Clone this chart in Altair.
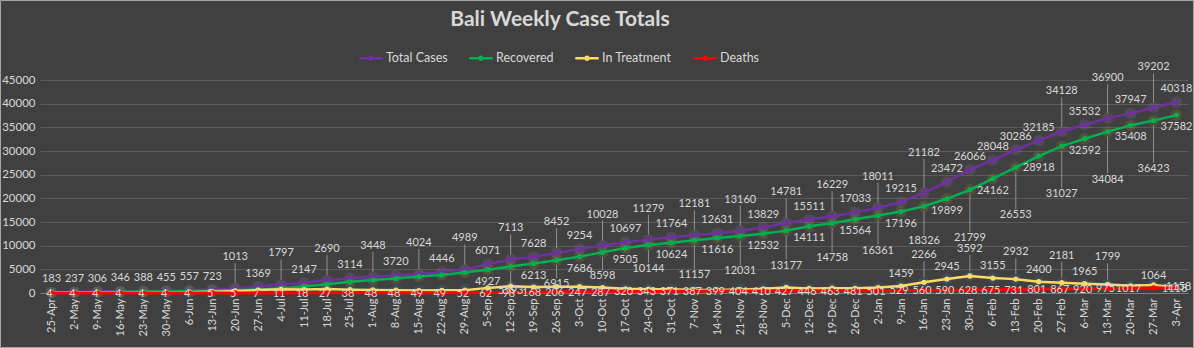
import altair as alt
import pandas as pd

dates = ["25-Apr", "2-May", "9-May", "16-May", "23-May", "30-May", "6-Jun", "13-Jun", "20-Jun", "27-Jun",
         "4-Jul", "11-Jul", "18-Jul", "25-Jul", "1-Aug", "8-Aug", "15-Aug", "22-Aug", "29-Aug", "5-Sep",
         "12-Sep", "19-Sep", "26-Sep", "3-Oct", "10-Oct", "17-Oct", "24-Oct", "31-Oct", "7-Nov", "14-Nov",
         "21-Nov", "28-Nov", "5-Dec", "12-Dec", "19-Dec", "26-Dec", "2-Jan", "9-Jan", "16-Jan", "23-Jan",
         "30-Jan", "6-Feb", "13-Feb", "20-Feb", "27-Feb", "6-Mar", "13-Mar", "20-Mar", "27-Mar", "3-Apr"]

total_cases = [183, 237, 306, 346, 388, 455, 557, 723, 1013, 1369,
               1797, 2147, 2690, 3114, 3448, 3720, 4024, 4446, 4989, 6071,
               7113, 7628, 8452, 9254, 10028, 10697, 11279, 11764, 12181, 12631,
               13160, 13829, 14781, 15511, 16229, 17033, 18011, 19215, 21182, 23472,
               26066, 28048, 30286, 32185, 34128, 35532, 36900, 37947, 39202, 40318]

recovered = [70, 106, 164, 250, 296, 338, 384, 463, 560, 741,
             1015, 1398, 1827, 2364, 2742, 3076, 3468, 3827, 4350, 4927,
             5593, 6213, 6915, 7686, 8598, 9505, 10144, 10624, 11157, 11616,
             12031, 12532, 13177, 14111, 14758, 15564, 16361, 17196, 18326, 19899,
             21799, 24162, 26553, 28918, 31027, 32592, 34084, 35408, 36423, 37582]

in_treatment = [109, 127, 138, 92, 88, 113, 169, 255, 448, 621,
                771, 731, 836, 712, 658, 596, 507, 570, 587, 1082,
                1422, 1247, 1331, 1321, 1143, 872, 792, 769, 637, 616,
                725, 887, 1177, 954, 1008, 988, 1149, 1459, 2266, 2945,
                3592, 3155, 2932, 2400, 2181, 1965, 1799, 1522, 1715, 1158]

deaths = [4, 4, 4, 4, 4, 4, 4, 5, 5, 7,
          11, 18, 27, 38, 48, 48, 49, 49, 52, 62,
          98, 168, 206, 247, 287, 320, 343, 371, 387, 399,
          404, 410, 427, 446, 463, 481, 501, 529, 560, 590,
          628, 675, 731, 801, 867, 920, 975, 1017, 1064, 1118]

title_text = "Bali Weekly Case Totals"
series_names = ["Total Cases", "Recovered", "In Treatment", "Deaths"]
series_colors = ["#7030A0", "#00B050", "#FFD966", "#FF0000"]
glow_colors = ["#7A6A8E", "#8F7A30", "#2F6F8E", None]

rows = []
for s, vals in zip(series_names, [total_cases, recovered, in_treatment, deaths]):
    for i, d in enumerate(dates):
        rows.append({"date": d, "i": i, "series": s, "value": vals[i]})
df = pd.DataFrame(rows)

FONT = "Lato"
TXT = "#D9D9D9"

x_enc = alt.X("date:N", sort=dates,
              scale=alt.Scale(type="point", padding=0.5),
              axis=alt.Axis(title=None, labelAngle=270, labelFontSize=11, labelColor=TXT,
                            labelFont=FONT, ticks=False, domainColor="#7F7F7F",
                            labelPadding=5, grid=False))
y_enc = alt.Y("value:Q", scale=alt.Scale(domain=[0, 45000], nice=False),
              axis=alt.Axis(title=None, values=list(range(0, 45001, 5000)), format="d",
                            labelFontSize=11.5, labelColor=TXT, labelFont=FONT,
                            ticks=False, domain=False, gridColor="#5A5A5A",
                            labelPadding=5))
color_enc = alt.Color("series:N",
                      scale=alt.Scale(domain=series_names, range=series_colors),
                      legend=alt.Legend(title=None, orient="none", direction="horizontal",
                                        legendX=318, legendY=-35,
                                        labelColor=TXT, labelFont=FONT, labelFontSize=12.5,
                                        symbolType="M-1,0L1,0M-0.12,0A0.12,0.12,0,1,1,0.12,0A0.12,0.12,0,1,1,-0.12,0",
                                        symbolSize=550, symbolStrokeWidth=2.5,
                                        columnPadding=16, labelOffset=2))

base = alt.Chart(df)
layers = []

# outer chart border
layers.append(alt.Chart(pd.DataFrame({"b": [0]})).mark_rect(
    filled=False, stroke="#A6A6A6", strokeWidth=1)
    .encode(x=alt.value(-39.5), x2=alt.value(1153.5), y=alt.value(-79.5), y2=alt.value(267.5)))

# chart title
layers.append(alt.Chart(pd.DataFrame({"t": [title_text]})).mark_text(
    fontSize=21, font=FONT, fontWeight="bold", color=TXT, align="center", baseline="middle")
    .encode(x=alt.value(520), y=alt.value(-60), text="t:N"))

# glow behind markers
for s, g in zip(series_names, glow_colors):
    if g is None:
        continue
    layers.append(base.transform_filter(alt.datum.series == s)
                  .mark_circle(size=130, opacity=0.28, color=g)
                  .encode(x=x_enc, y=y_enc))

# lines + markers for each series, Deaths drawn last
for s in series_names:
    sub = base.transform_filter(alt.datum.series == s)
    sw = 3 if s == "Deaths" else 2.5
    layers.append(sub.mark_line(strokeWidth=sw).encode(x=x_enc, y=y_enc, color=color_enc))
    layers.append(sub.mark_circle(size=28, opacity=1).encode(x=x_enc, y=y_enc, color=color_enc))

# data labels: (series, filter, dy, dx, leader)
is_even = "datum.i % 2 == 0"
tot_far = f"datum.i >= 8 && {is_even} && datum.i != 40 && datum.i != 42"
label_groups = [
    ("Total Cases", f"!({tot_far})", -13, 0, None),
    ("Total Cases", f"({tot_far}) && datum.i < 38", -31, 0, (-5, -25)),
    ("Total Cases", f"({tot_far}) && datum.i >= 38", -40, 0, (-5, -34)),
    ("Recovered", "datum.i >= 19 && datum.i % 2 == 1", 12, 0, None),
    ("Recovered", f"datum.i >= 19 && {is_even} && datum.i <= 26", 24, 0, (5, 18)),
    ("Recovered", f"{is_even} && datum.i >= 28 && datum.i <= 38", 35, 0, (5, 29)),
    ("Recovered", f"{is_even} && datum.i >= 40", 48, 0, (5, 42)),
    ("In Treatment", "datum.i >= 37 && datum.i <= 46 && datum.i % 2 == 1", -12, 0, None),
    ("In Treatment", f"datum.i >= 37 && datum.i <= 46 && {is_even}", -27, 0, (-5, -21)),
    ("In Treatment", "datum.i == 49", -1, 2, None),
    ("Deaths", "datum.i != 48", 1, -2, None),
    ("Deaths", "datum.i == 48", -12, 0, None),
]

for s, flt, dy, dx, leader in label_groups:
    sub = base.transform_filter(alt.datum.series == s).transform_filter(flt)
    if leader is not None:
        layers.append(sub.mark_rule(color="#A6A6A6", strokeWidth=1, opacity=0.8,
                                    yOffset=leader[0], y2Offset=leader[1])
                      .encode(x=x_enc, y=y_enc, y2="value:Q"))
    layers.append(sub.mark_text(fontSize=11, font=FONT, color=TXT, dy=dy, dx=dx,
                                align="center", baseline="middle")
                  .encode(x=x_enc, y=y_enc, text="value:Q"))

chart = alt.layer(*layers).properties(
    width=1148, height=213,
    autosize=alt.AutoSizeParams(type="none"),
    padding={"left": 40, "top": 80, "right": 6, "bottom": 55},
    background="#404040",
).configure_view(strokeWidth=0)

chart.save("out.html", embed_options={"renderer": "svg", "actions": False})
